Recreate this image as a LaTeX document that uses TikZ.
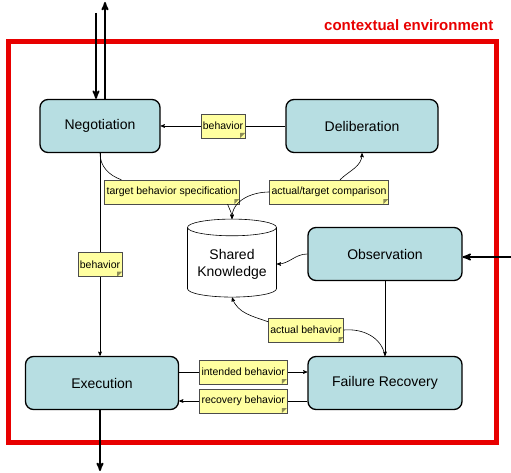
\documentclass[tikz,border=0pt]{standalone}
\usepackage{fontspec}
\setmainfont{Liberation Sans}
\usetikzlibrary{shapes,calc,positioning,arrows}
\definecolor{boxcyan}{RGB}{183,222,226}
\definecolor{noteyellow}{RGB}{255,255,160}
\definecolor{envred}{RGB}{232,0,0}

\begin{document}
\begin{tikzpicture}[x=1pt, y=1pt, >=stealth', semithick,
   box/.style={rectangle, rounded corners=8pt, draw, line width=1.3pt, fill=boxcyan,
     font=\fontsize{14}{16}\selectfont, minimum height=53pt},
   note/.style={rectangle, draw=black!70, thin, fill=noteyellow, inner sep=2pt,
     font=\fontsize{10.5}{12}\selectfont, minimum height=24pt,
     path picture={\fill[noteyellow!55!black]
       ($(path picture bounding box.south east)+(-5pt,0)$) -- ++(0,5pt) -- ++(5pt,0) -- cycle;}},
   store/.style={cylinder, shape border rotate=90, aspect=0.22, draw, fill=white,
     align=center, font=\fontsize{14}{17}\selectfont, minimum width=89pt, minimum height=78pt},
   heavy/.style={->, line width=1.8pt}]

  \useasboundingbox (0,0) rectangle (511,472);
  \draw[envred, line width=5pt] (8,30) rectangle (496,430);
  \node [envred, anchor=east, font=\bfseries\fontsize{15}{16}\selectfont] (env) at (497,447) {contextual environment};

  \node [box, minimum width=120pt] (neg) at (100,346) {Negotiation};
  \node [box, minimum width=152pt] (del) at (362,346) {Deliberation};
  \node [box, minimum width=154pt] (obs) at (385,218) {Observation};
  \node [store] (sk) at (232,208) {Shared\\Knowledge};
  \node [box, minimum width=153pt] (exe) at (102,89) {Execution};
  \node [box, minimum width=154pt] (fr) at (385,89) {Failure Recovery};

  \coordinate (top in) at (96,459);
  \coordinate (top out) at (105,470);
  \coordinate (right in) at (511,215);
  \coordinate (bottom out) at (100,1);

  \draw [heavy] (top in) -- (top in |- neg.north);
  \draw [heavy] (top out |- neg.north) -- (top out);
  \draw [heavy] (right in) -- (right in -| obs.east);
  \draw [heavy] (exe.south -| bottom out) -- (bottom out);

  \draw [->] (del) -- node [note] {behavior} (neg);
  \draw [->] (neg.south) -- node [note, pos=0.55] {behavior} (neg.south |- exe.north);
  \draw [->] ([yshift=11pt]exe.east) -- node [note] {intended behavior} ([yshift=11pt]exe.east -| fr.west);
  \draw [->] ([yshift=-18pt]fr.west) -- node [note] {recovery behavior} ([yshift=-18pt]fr.west -| exe.east);
  \draw [->] (obs) -- (fr);
  \draw [->] (obs.west) to[out=180,in=0] (sk.east);

  \node [note] (tbs) at (172,280) {target behavior specification};
  \node [note] (cmp) at (329,280) {actual/target comparison};
  \node [note] (ab) at (306,142) {actual behavior};

  \draw (neg.south) to[out=-90,in=160] ([xshift=17pt]tbs.north west);
  \draw [->] ([xshift=-12pt]tbs.south east) to[out=-70,in=90] (sk.north);
  \draw [->] ([xshift=11pt]cmp.north) to[out=45,in=-90] (del.south);
  \draw [->] (cmp.west) to[out=180,in=90] (sk.north);
  \draw [->] ([yshift=-4pt]ab.north west) to[out=160,in=-70] (sk.south);
  \draw (ab.east) to[out=5,in=100] (fr.north);
\end{tikzpicture}
\end{document}
